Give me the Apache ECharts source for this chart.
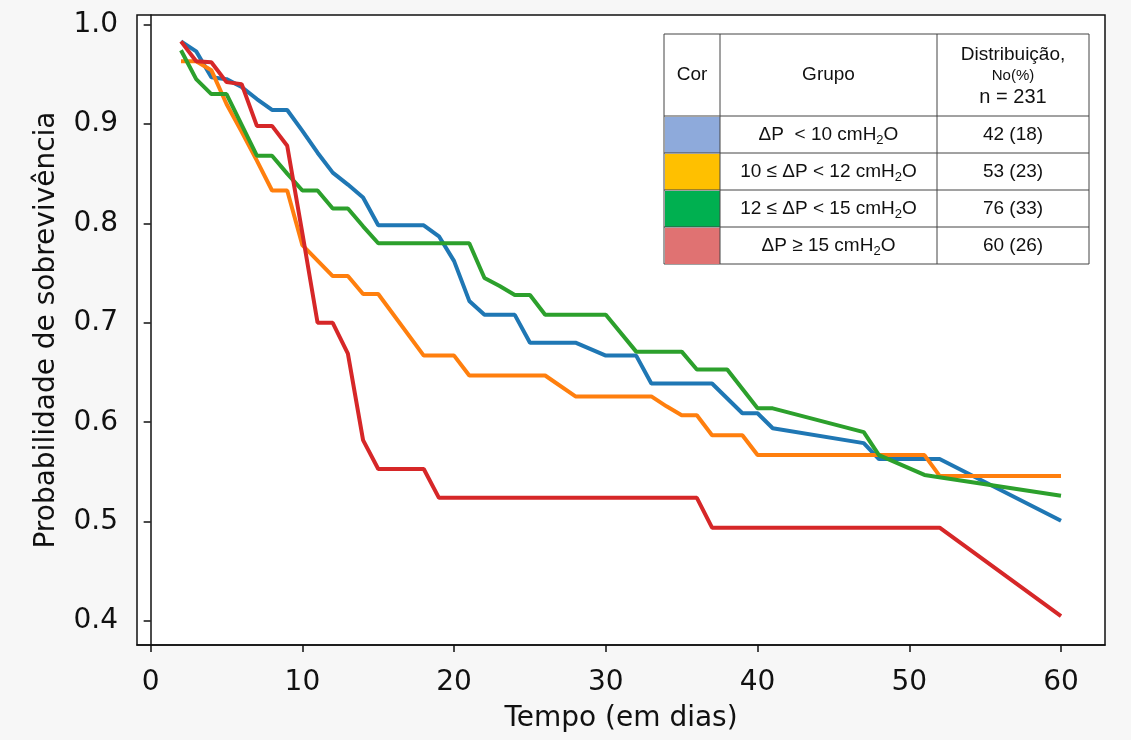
<!DOCTYPE html>
<html>
<head>
<meta charset="utf-8">
<script src="https://cdn.jsdelivr.net/npm/echarts@6/dist/echarts.min.js"></script>
<style>
  html, body { margin: 0; padding: 0; background: #f7f7f7; }
  #chart { width: 1131px; height: 740px; }
</style>
</head>
<body>
<div id="chart"></div>
<script>
// curvas de sobrevivência (dia, probabilidade)
const diasAzul = [2, 3, 4, 5, 6, 7, 8, 9, 10, 11, 12, 13, 14, 15, 18, 19, 20, 21, 22, 24, 25, 28, 30, 32, 33, 37, 39, 40, 41, 47, 48, 52, 60];
const probAzul = [0.983, 0.973, 0.947, 0.945, 0.937, 0.925, 0.914, 0.914, 0.893, 0.871, 0.851, 0.839, 0.826, 0.798, 0.798, 0.787, 0.762, 0.722, 0.708, 0.708, 0.680, 0.680, 0.667, 0.667, 0.639, 0.639, 0.609, 0.609, 0.594, 0.579, 0.563, 0.563, 0.501];

const diasLaranja = [2, 3, 4, 5, 6, 7, 8, 9, 10, 12, 13, 14, 15, 18, 20, 21, 26, 28, 33, 34, 35, 36, 37, 39, 40, 51, 52, 60];
const probLaranja = [0.963, 0.963, 0.954, 0.920, 0.892, 0.863, 0.833, 0.833, 0.778, 0.747, 0.747, 0.729, 0.729, 0.667, 0.667, 0.647, 0.647, 0.626, 0.626, 0.616, 0.607, 0.607, 0.587, 0.587, 0.567, 0.567, 0.546, 0.546];

const diasVerde = [2, 3, 4, 5, 6, 7, 8, 9, 10, 11, 12, 13, 14, 15, 21, 22, 23, 24, 25, 26, 30, 32, 35, 36, 38, 40, 41, 47, 48, 51, 60];
const probVerde = [0.974, 0.945, 0.930, 0.930, 0.899, 0.868, 0.868, 0.850, 0.833, 0.833, 0.815, 0.815, 0.797, 0.780, 0.780, 0.745, 0.737, 0.728, 0.728, 0.708, 0.708, 0.671, 0.671, 0.653, 0.653, 0.614, 0.614, 0.590, 0.567, 0.547, 0.526];

const diasVermelho = [2, 3, 4, 5, 6, 7, 8, 9, 10, 11, 12, 13, 14, 15, 18, 19, 36, 37, 52, 60];
const probVermelho = [0.983, 0.963, 0.962, 0.942, 0.940, 0.898, 0.898, 0.878, 0.790, 0.700, 0.700, 0.669, 0.582, 0.553, 0.553, 0.524, 0.524, 0.494, 0.494, 0.405];

const ticksX = [0, 10, 20, 30, 40, 50, 60];
const ticksY = [0.4, 0.5, 0.6, 0.7, 0.8, 0.9, 1.0];

// tabela da legenda
const grupos = ["{t|ΔP  < 10 cmH}{s|2}{t|O}", "{t|10 ≤ ΔP < 12 cmH}{s|2}{t|O}", "{t|12 ≤ ΔP < 15 cmH}{s|2}{t|O}", "{t|ΔP ≥ 15 cmH}{s|2}{t|O}"];
const distribuicao = ["42 (18)", "53 (23)", "76 (33)", "60 (26)"];
const coresTabela = ["#8eaadb", "#ffc000", "#00b050", "#e07272"];
const coresLinhas = ["#1f77b4", "#ff7f0e", "#2ca02c", "#d62728"];

const curvas = [
    [diasAzul, probAzul],
    [diasLaranja, probLaranja],
    [diasVerde, probVerde],
    [diasVermelho, probVermelho]
];

function montarTabela() {
    const x0 = 664, y0 = 34;
    const colunas = [56, 217, 152];
    const alturaCab = 82, alturaLinha = 37;
    const largura = colunas[0] + colunas[1] + colunas[2];
    const altura = alturaCab + alturaLinha * 4;
    const borda = "#444";
    const fonte = "Liberation Sans, Arial, sans-serif";
    const els = [];

    els.push({ type: "rect", shape: { x: x0, y: y0, width: largura, height: altura }, style: { fill: "#fff", stroke: borda, lineWidth: 1 } });

    // amostras de cor
    for (let i = 0; i < 4; i++) {
        els.push({ type: "rect", shape: { x: x0 + 1, y: y0 + alturaCab + alturaLinha * i + 1, width: colunas[0] - 1, height: alturaLinha - 1 }, style: { fill: coresTabela[i] } });
    }

    // linhas da grade
    const xs = [x0 + colunas[0], x0 + colunas[0] + colunas[1]];
    xs.forEach((x) => els.push({ type: "line", shape: { x1: x, y1: y0, x2: x, y2: y0 + altura }, style: { stroke: borda, lineWidth: 1 } }));
    for (let i = 0; i < 4; i++) {
        const y = y0 + alturaCab + alturaLinha * i;
        els.push({ type: "line", shape: { x1: x0, y1: y, x2: x0 + largura, y2: y }, style: { stroke: borda, lineWidth: 1 } });
    }

    const cx1 = x0 + colunas[0] / 2;
    const cx2 = x0 + colunas[0] + colunas[1] / 2;
    const cx3 = x0 + colunas[0] + colunas[1] + colunas[2] / 2;
    const base = { fill: "#111", fontFamily: fonte, align: "center", verticalAlign: "middle" };

    els.push({ type: "text", x: cx1, y: y0 + 41, style: Object.assign({ text: "Cor", fontSize: 19 }, base) });
    els.push({ type: "text", x: cx2, y: y0 + 41, style: Object.assign({ text: "Grupo", fontSize: 19 }, base) });
    els.push({ type: "text", x: cx3, y: y0 + 21, style: Object.assign({ text: "Distribuição,", fontSize: 19 }, base) });
    els.push({ type: "text", x: cx3, y: y0 + 42, style: Object.assign({ text: "No(%)", fontSize: 15 }, base) });
    els.push({ type: "text", x: cx3, y: y0 + 63, style: Object.assign({ text: "n = 231", fontSize: 20 }, base) });

    for (let i = 0; i < 4; i++) {
        const cy = y0 + alturaCab + alturaLinha * i + alturaLinha / 2;
        els.push({
            type: "text", x: cx2, y: cy,
            style: Object.assign({
                text: grupos[i],
                rich: {
                    t: { fontSize: 19, fontFamily: fonte, fill: "#111", lineHeight: 24, verticalAlign: "middle" },
                    s: { fontSize: 13, fontFamily: fonte, fill: "#111", lineHeight: 24, verticalAlign: "bottom", padding: [9, 0, 0, 0] }
                }
            }, base)
        });
        els.push({ type: "text", x: cx3, y: cy, style: Object.assign({ text: distribuicao[i], fontSize: 19 }, base) });
    }
    return els;
}

const chart = echarts.init(document.getElementById("chart"));

chart.setOption({
    backgroundColor: "#f7f7f7",
    animation: false,
    grid: {
        left: 137, right: 26, top: 15, bottom: 95,
        show: true, backgroundColor: "#fff", borderColor: "#111", borderWidth: 1.5
    },
    xAxis: {
        type: "value",
        min: -0.9, max: 62.9,
        name: "Tempo (em dias)",
        nameLocation: "middle",
        nameGap: 60,
        nameTextStyle: { fontFamily: "DejaVu Sans", fontSize: 28, color: "#111" },
        axisLine: { show: true, onZero: false, lineStyle: { color: "#111", width: 1.5 } },
        axisTick: { show: true, length: 7, customValues: ticksX, lineStyle: { color: "#111", width: 1.5 } },
        axisLabel: { customValues: ticksX, fontFamily: "DejaVu Sans", fontSize: 28, color: "#111", margin: 24 },
        splitLine: { show: false }
    },
    yAxis: {
        type: "value",
        min: 0.376, max: 1.0095,
        name: "Probabilidade de sobrevivência",
        nameLocation: "middle",
        nameGap: 76,
        nameTextStyle: { fontFamily: "DejaVu Sans", fontSize: 28, color: "#111" },
        axisLine: { show: true, lineStyle: { color: "#111", width: 1.5 } },
        axisTick: { show: true, length: 7, customValues: ticksY, lineStyle: { color: "#111", width: 1.5 } },
        axisLabel: {
            customValues: ticksY,
            formatter: (v) => v.toFixed(1),
            fontFamily: "DejaVu Sans", fontSize: 28, color: "#111", margin: 19
        },
        splitLine: { show: false }
    },
    series: curvas.map((c, i) => ({
        type: "line",
        data: c[0].map((d, k) => [d, c[1][k]]),
        showSymbol: false,
        lineStyle: { color: coresLinhas[i], width: 4 },
        itemStyle: { color: coresLinhas[i] },
        z: 2 + i
    })),
    graphic: montarTabela()
});
</script>
</body>
</html>
